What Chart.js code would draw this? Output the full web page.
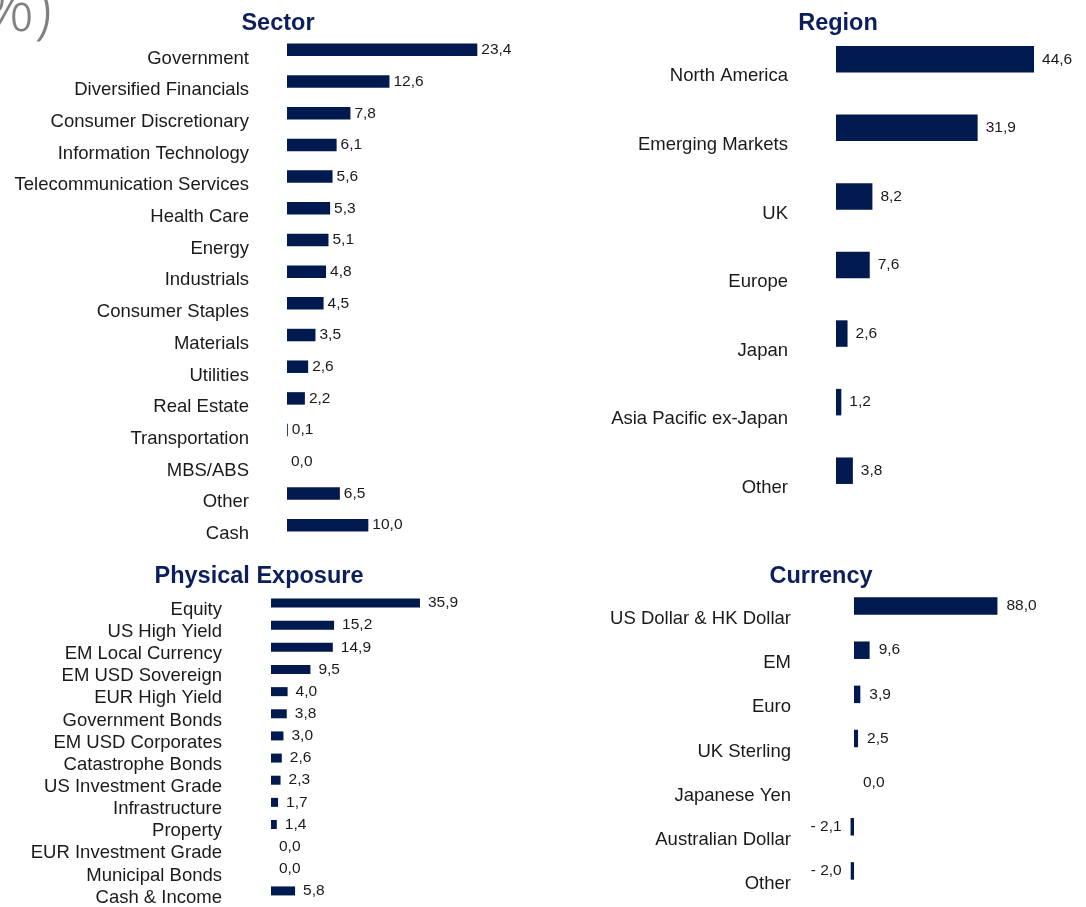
<!DOCTYPE html>
<html><head><meta charset="utf-8">
<script src="https://cdn.jsdelivr.net/npm/chart.js@4"></script>
<style>
html,body{margin:0;padding:0;background:#fff;}
#wrap{position:relative;width:1086px;height:907px;overflow:hidden;}
canvas{position:absolute;}
.ttl{position:absolute;width:300px;text-align:center;font:bold 23.5px "Liberation Sans",Arial,sans-serif;color:#0c1f5c;line-height:30px;}
#pct{position:absolute;left:-36px;top:-26px;font:300 65px "Open Sans","Liberation Sans",Arial,sans-serif;color:#808080;line-height:65px;white-space:nowrap;}
</style></head>
<body><div id="wrap">
<canvas id="c1" width="581" height="525" style="left:0;top:26px"></canvas>
<canvas id="c2" width="526" height="500" style="left:560px;top:17px"></canvas>
<canvas id="c3" width="487" height="330" style="left:0;top:584px"></canvas>
<canvas id="c4" width="507" height="329" style="left:560px;top:576px"></canvas>
<div id="pct">(%)</div>
<div class="ttl" style="left:128px;top:7px">Sector</div>
<div class="ttl" style="left:688px;top:7px">Region</div>
<div class="ttl" style="left:109px;top:560px">Physical Exposure</div>
<div class="ttl" style="left:671px;top:560px">Currency</div>
</div>
<script>
const sectorLabels = ["Government","Diversified Financials","Consumer Discretionary","Information Technology","Telecommunication Services","Health Care","Energy","Industrials","Consumer Staples","Materials","Utilities","Real Estate","Transportation","MBS/ABS","Other","Cash"];
const sectorValues = [23.4,12.6,7.8,6.1,5.6,5.3,5.1,4.8,4.5,3.5,2.6,2.2,0.1,0.0,6.5,10.0];

const regionLabels = ["North America","Emerging Markets","UK","Europe","Japan","Asia Pacific ex-Japan","Other"];
const regionValues = [44.6,31.9,8.2,7.6,2.6,1.2,3.8];

const physicalLabels = ["Equity","US High Yield","EM Local Currency","EM USD Sovereign","EUR High Yield","Government Bonds","EM USD Corporates","Catastrophe Bonds","US Investment Grade","Infrastructure","Property","EUR Investment Grade","Municipal Bonds","Cash & Income"];
const physicalValues = [35.9,15.2,14.9,9.5,4.0,3.8,3.0,2.6,2.3,1.7,1.4,0.0,0.0,5.8];

const currencyLabels = ["US Dollar & HK Dollar","EM","Euro","UK Sterling","Japanese Yen","Australian Dollar","Other"];
const currencyValues = [88.0,9.6,3.9,2.5,0.0,-2.1,-2.0];

const BAR = '#001a50';
const FONT = '"Liberation Sans", Arial, sans-serif';

function fmt(v){
  const s = Math.abs(v).toFixed(1).replace('.', ',');
  return v < 0 ? '- ' + s : s;
}

const valueLabels = {
  id: 'valueLabels',
  afterDatasetsDraw(chart, args, opts){
    const ctx = chart.ctx;
    const meta = chart.getDatasetMeta(0);
    const data = chart.data.datasets[0].data;
    ctx.save();
    ctx.font = '15.5px ' + FONT;
    ctx.fillStyle = '#1a1a1a';
    ctx.textBaseline = 'middle';
    meta.data.forEach((el, i) => {
      const v = data[i];
      const neg = v < 0;
      ctx.textAlign = neg ? 'right' : 'left';
      ctx.fillText(fmt(v), el.x + (neg ? -opts.gap : opts.gap), el.y);
    });
    ctx.restore();
  }
};

function makeChart(id, labels, values, cfg){
  return new Chart(document.getElementById(id), {
    type: 'bar',
    data: { labels: labels, datasets: [{
      data: values,
      backgroundColor: (c) => (c.raw === 0 ? 'rgba(0,0,0,0)' : BAR),
      borderWidth: 0,
      inflateAmount: 0,
      barThickness: cfg.thick
    }] },
    options: {
      indexAxis: 'y',
      responsive: false,
      animation: false,
      devicePixelRatio: 1,
      layout: { padding: { left: 0, top: cfg.pt, bottom: cfg.pb, right: cfg.pr } },
      plugins: {
        legend: { display: false },
        tooltip: { enabled: false },
        title: { display: false },
        valueLabels: { gap: cfg.gap }
      },
      scales: {
        x: { display: false, min: cfg.min, max: cfg.max },
        y: {
          afterFit(s){ s.width = cfg.axisW; s.paddingTop = 0; s.paddingBottom = 0; },
          grid: { display: false, drawTicks: false },
          border: { display: false },
          ticks: { autoSkip: false, padding: cfg.pad, labelOffset: cfg.off, color: '#1a1a1a', font: { family: FONT, size: 18.5 } }
        }
      }
    },
    plugins: [valueLabels]
  });
}

makeChart('c1', sectorLabels, sectorValues, { thick: 12.5, pt: 8, pb: 10, pr: 50, axisW: 287, min: 0, max: 30, pad: 38, off: 8.7, gap: 4 });
makeChart('c2', regionLabels, regionValues, { thick: 26.5, pt: 8, pb: 12, pr: 28, axisW: 276, min: 0, max: 50, pad: 48, off: 17, gap: 8 });
makeChart('c3', physicalLabels, physicalValues, { thick: 9, pt: 8, pb: 12, pr: 50, axisW: 271, min: 0, max: 40, pad: 49, off: 6.7, gap: 8 });
makeChart('c4', currencyLabels, currencyValues, { thick: 17.5, pt: 8, pb: 12, pr: 50, axisW: 278, min: -9.8, max: 100, pad: 47, off: 13, gap: 9 });
</script>
</body></html>
